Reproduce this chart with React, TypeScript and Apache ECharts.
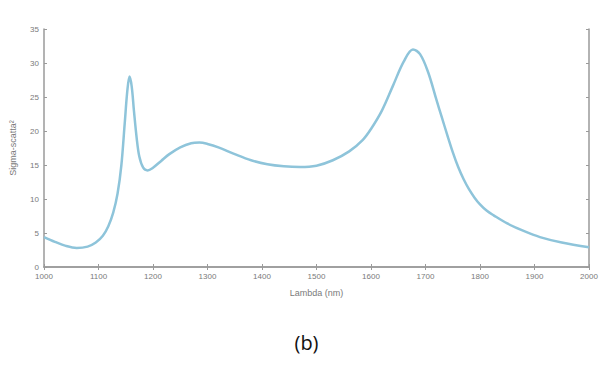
import React, { useEffect, useRef } from "react";
import * as echarts from "echarts";

// Wavelength samples (nm) and the scattering response at each one
const lambdaNm = [
  1000, 1020, 1040, 1060, 1080, 1095, 1108, 1118, 1127, 1135, 1142, 1148, 1153,
  1157, 1161, 1165, 1170, 1175, 1182, 1190, 1200, 1215, 1230, 1250, 1270, 1285,
  1300, 1320, 1350, 1380, 1410, 1440, 1470, 1500, 1530, 1560, 1585, 1600, 1620,
  1640, 1660, 1677, 1690, 1705, 1720, 1730, 1740, 1750, 1760, 1770, 1780, 1790,
  1800, 1812, 1825, 1850, 1880, 1910, 1950, 2000,
];
const sigmaScatta = [
  4.4, 3.7, 3.1, 2.8, 3.0, 3.6, 4.6, 6.0, 8.0, 10.8, 15.0, 21.0, 26.0,
  28.0, 26.5, 23.0, 19.0, 16.2, 14.6, 14.2, 14.6, 15.6, 16.6, 17.6, 18.2, 18.3,
  18.1, 17.6, 16.6, 15.7, 15.1, 14.8, 14.7, 14.9, 15.7, 17.0, 18.7, 20.3, 23.0,
  26.6, 30.2, 32.0, 31.3, 28.6, 24.6, 22.0, 19.4, 16.9, 14.7, 12.9, 11.4, 10.2,
  9.2, 8.3, 7.6, 6.4, 5.3, 4.4, 3.6, 2.9,
];

const xTicks = { min: 1000, max: 2000, interval: 100 };
const yTicks = { min: 0, max: 35, interval: 5 };

const axisGrey = "#9a9a9a";
const labelGrey = "#7a7a7a";
const curveBlue = "#8ec4da";

export default function App() {
  const ref = useRef<HTMLDivElement>(null);

  useEffect(() => {
    if (!ref.current) return;
    const chart = echarts.init(ref.current, undefined, { renderer: "svg" });

    const points = lambdaNm.map((x, i) => [x, sigmaScatta[i]]);

    const axisLine = { show: true, lineStyle: { color: axisGrey, width: 1.5 } };
    const axisTick = { show: true, inside: true, length: 3, lineStyle: { color: axisGrey } };
    const plainNumber = (v: number) => String(v);

    chart.setOption({
      animation: false,
      backgroundColor: "#ffffff",
      grid: { left: 44, right: 24, top: 29, bottom: 114, containLabel: false },
      xAxis: [
        {
          type: "value",
          position: "bottom",
          ...xTicks,
          axisLine,
          axisTick,
          splitLine: { show: false },
          axisLabel: {
            color: labelGrey,
            fontSize: 8,
            fontFamily: "Liberation Sans",
            margin: 5,
            formatter: plainNumber,
          },
          name: "Lambda (nm)",
          nameLocation: "middle",
          nameGap: 21,
          nameTextStyle: { color: labelGrey, fontSize: 9, fontFamily: "Liberation Sans" },
        },
        {
          type: "value",
          position: "top",
          ...xTicks,
          axisLine,
          axisTick,
          splitLine: { show: false },
          axisLabel: { show: false },
        },
      ],
      yAxis: [
        {
          type: "value",
          position: "left",
          ...yTicks,
          axisLine,
          axisTick,
          splitLine: { show: false },
          axisLabel: {
            color: labelGrey,
            fontSize: 8,
            fontFamily: "Liberation Sans",
            margin: 5,
            formatter: plainNumber,
          },
          name: "Sigma-scatta²",
          nameLocation: "middle",
          nameGap: 27,
          nameRotate: 90,
          nameTextStyle: { color: labelGrey, fontSize: 9, fontFamily: "Liberation Sans" },
        },
        {
          type: "value",
          position: "right",
          ...yTicks,
          axisLine,
          axisTick,
          splitLine: { show: false },
          axisLabel: { show: false },
        },
      ],
      series: [
        {
          type: "line",
          data: points,
          smooth: 0.35,
          showSymbol: false,
          lineStyle: { color: curveBlue, width: 2.5 },
        },
      ],
      graphic: [
        {
          type: "text",
          left: "center",
          top: 332,
          style: {
            text: "(b)",
            fontSize: 20,
            fontFamily: "Open Sans",
            fill: "#111111",
          },
        },
      ],
    });

    return () => chart.dispose();
  }, []);

  return (
    <div
      ref={ref}
      style={{ position: "fixed", left: 0, top: 0, width: 613, height: 381 }}
    />
  );
}
